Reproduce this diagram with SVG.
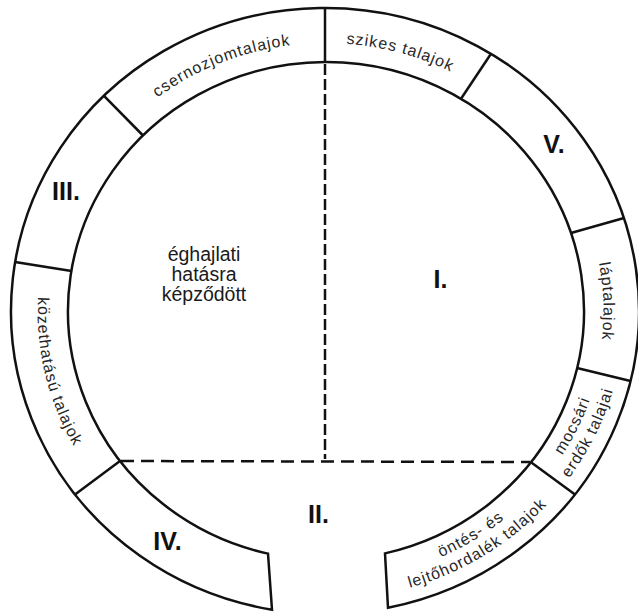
<svg xmlns="http://www.w3.org/2000/svg" xmlns:xlink="http://www.w3.org/1999/xlink" width="638" height="614" viewBox="0 0 638 614">
<style>
  .ln{fill:none;stroke:#111;stroke-width:2.5;stroke-linejoin:miter}
  .dv{fill:none;stroke:#111;stroke-width:2.5}
  .dh{stroke-dasharray:13 7}
  .dvv{stroke-dasharray:11 4}
  .rt{font-family:"Liberation Sans",Arial,sans-serif;font-size:16px;letter-spacing:1px;fill:#262626}
  .ct{font-family:"Liberation Sans",Arial,sans-serif;font-size:19.5px;fill:#1a1a1a;text-anchor:middle}
  .big{font-family:"Liberation Sans",Arial,sans-serif;font-size:25px;font-weight:bold;fill:#111;text-anchor:middle}
</style>
<defs>
  <path id="pCser" d="M 68.7 208.4 A 278 268 0 0 1 431.9 63.4"/>
  <path id="pSzik" d="M 189.9 77.1 A 278 268 0 0 1 568.2 180.2"/>
  <path id="pLap" d="M 515.1 115 A 278 268 0 0 1 528.8 493.8"/>
  <path id="pKoz" d="M 81.3 163.7 A 288 278 0 0 0 172.9 546.7"/>
  <path id="pMoc1" d="M 419.9 565.4 A 280 270.2 0 0 0 589.1 219.9"/>
  <path id="pMoc2" d="M 426.3 582.6 A 299 288.5 0 0 0 607 213.7"/>
  <path id="pOnt1" d="M 264.9 574.8 A 280 270.2 0 0 0 598.9 369.5"/>
  <path id="pOnt2" d="M 260.8 592.7 A 299 288.5 0 0 0 617.4 373.4"/>
</defs>

<g id="ring">
  <path class="ln" d="M 272 609.65 A 314 303 0 1 1 388 607.84 L 385 553.4 A 258 249 0 1 0 268 553.63 Z"/>
  <line class="ln" x1="325" y1="8" x2="325" y2="62"/>
  <line class="ln" x1="104" y1="95.8" x2="143" y2="135.5"/>
  <line class="ln" x1="15" y1="262" x2="71.5" y2="271"/>
  <line class="ln" x1="75" y1="494.4" x2="120" y2="461"/>
  <line class="ln" x1="531" y1="462.2" x2="575" y2="494.4"/>
  <line class="ln" x1="577" y1="368" x2="630.5" y2="381"/>
  <line class="ln" x1="571" y1="233" x2="624" y2="218"/>
  <line class="ln" x1="461" y1="98.8" x2="491" y2="53.8"/>
</g>

<g id="connectors">
  <line class="dv dvv" x1="325" y1="64" x2="325" y2="459"/>
  <line class="dv dh" x1="121" y1="461" x2="530" y2="462"/>
</g>

<g id="seg-csernozjom">
  <text class="rt"><textPath xlink:href="#pCser" href="#pCser" startOffset="50%" text-anchor="middle">csernozjomtalajok</textPath></text>
</g>
<g id="seg-szikes">
  <text class="rt"><textPath xlink:href="#pSzik" href="#pSzik" startOffset="50%" text-anchor="middle">szikes talajok</textPath></text>
</g>
<g id="seg-V">
  <text class="big" x="554" y="153">V.</text>
</g>
<g id="seg-lap">
  <text class="rt"><textPath xlink:href="#pLap" href="#pLap" startOffset="50%" text-anchor="middle">láptalajok</textPath></text>
</g>
<g id="seg-mocsari">
  <text class="rt"><textPath xlink:href="#pMoc1" href="#pMoc1" startOffset="50%" text-anchor="middle">mocsári</textPath></text>
  <text class="rt"><textPath xlink:href="#pMoc2" href="#pMoc2" startOffset="50%" text-anchor="middle">erdők talajai</textPath></text>
</g>
<g id="seg-ontes">
  <text class="rt"><textPath xlink:href="#pOnt1" href="#pOnt1" startOffset="50%" text-anchor="middle">öntés- és</textPath></text>
  <text class="rt"><textPath xlink:href="#pOnt2" href="#pOnt2" startOffset="50%" text-anchor="middle">lejtőhordalék talajok</textPath></text>
</g>
<g id="seg-IV">
  <text class="big" x="167.5" y="550">IV.</text>
</g>
<g id="seg-kozet">
  <text class="rt"><textPath xlink:href="#pKoz" href="#pKoz" startOffset="50%" text-anchor="middle">közethatású talajok</textPath></text>
</g>
<g id="seg-III">
  <text class="big" x="66" y="200">III.</text>
</g>

<g id="area-eghajlati">
  <text class="ct" x="204" y="261">éghajlati</text>
  <text class="ct" x="204" y="281">hatásra</text>
  <text class="ct" x="204" y="301">képződött</text>
</g>
<g id="area-I">
  <text class="big" x="440.5" y="288">I.</text>
</g>
<g id="area-II">
  <text class="big" x="318.5" y="523">II.</text>
</g>
</svg>
